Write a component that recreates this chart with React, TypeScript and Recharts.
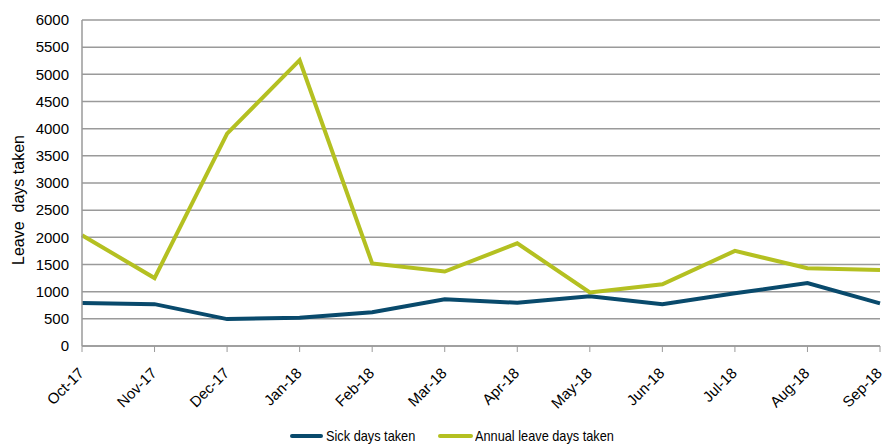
import React from 'react';
import { LineChart, Line, XAxis, YAxis, CartesianGrid } from 'recharts';

const months = ['Oct-17', 'Nov-17', 'Dec-17', 'Jan-18', 'Feb-18', 'Mar-18', 'Apr-18', 'May-18', 'Jun-18', 'Jul-18', 'Aug-18', 'Sep-18'];
const sickDays = [790, 770, 495, 520, 620, 860, 795, 915, 770, 970, 1160, 785];
const annualLeave = [2040, 1250, 3910, 5260, 1520, 1370, 1890, 985, 1135, 1750, 1430, 1400];
const yTicks = [0, 500, 1000, 1500, 2000, 2500, 3000, 3500, 4000, 4500, 5000, 5500, 6000];

const SICK = '#094a6c';
const ANNUAL = '#b4c021';
const FONT = '"Liberation Sans", Arial, sans-serif';

const data = months.map((m, i) => ({ month: m, sick: sickDays[i], annual: annualLeave[i] }));

function MonthTick({ x, y, payload }: any) {
    return (
        <g transform={`translate(${x + 3}, ${y + 20}) rotate(-45)`}>
            <text x={0} y={0} textAnchor="end" fontSize={15} fontFamily={FONT} fill="#000">
                {payload.value}
            </text>
        </g>
    );
}

function AxisTitle() {
    const cy = 200;
    return (
        <text
            x={18}
            y={cy}
            transform={`rotate(-90, 18, ${cy})`}
            textAnchor="middle"
            dominantBaseline="central"
            fontSize={16}
            fontFamily={FONT}
            fill="#000"
            style={{ whiteSpace: 'pre' }}
        >
            {'Leave  days taken'}
        </text>
    );
}

const legendText: React.CSSProperties = {
    position: 'absolute',
    top: 427,
    fontFamily: FONT,
    fontSize: 15,
    lineHeight: '18px',
    color: '#000',
    whiteSpace: 'nowrap',
    transform: 'scaleX(0.85)',
    transformOrigin: 'left center',
};

export default function App() {
    return (
        <div style={{ position: 'absolute', left: 0, top: 0, width: 892, height: 448, background: '#fff', overflow: 'hidden' }}>
            <LineChart width={892} height={420} data={data} margin={{ top: 20, right: 12, bottom: 0, left: 0 }}>
                <CartesianGrid horizontal vertical={false} stroke="#9a9a9a" strokeWidth={1.5} />
                <XAxis
                    dataKey="month"
                    height={74}
                    interval={0}
                    tick={<MonthTick />}
                    tickSize={6}
                    tickLine={{ stroke: '#9a9a9a' }}
                    axisLine={{ stroke: '#9a9a9a', strokeWidth: 1.5 }}
                />
                <YAxis
                    width={82}
                    domain={[0, 6000]}
                    ticks={yTicks}
                    interval={0}
                    tickLine={false}
                    tickSize={0}
                    tickMargin={13}
                    axisLine={{ stroke: '#9a9a9a', strokeWidth: 1.5 }}
                    tick={{ fill: '#000', fontSize: 15, fontFamily: FONT }}
                    label={<AxisTitle />}
                />
                <Line dataKey="sick" stroke={SICK} strokeWidth={4} dot={false} isAnimationActive={false} />
                <Line dataKey="annual" stroke={ANNUAL} strokeWidth={4} dot={false} isAnimationActive={false} />
            </LineChart>
            <span style={{ position: 'absolute', top: 434, left: 290, width: 33, height: 4, borderRadius: 2, background: SICK }} />
            <span style={{ ...legendText, left: 326 }}>Sick days taken</span>
            <span style={{ position: 'absolute', top: 434, left: 438, width: 35, height: 4, borderRadius: 2, background: ANNUAL }} />
            <span style={{ ...legendText, left: 475 }}>Annual leave days taken</span>
        </div>
    );
}
